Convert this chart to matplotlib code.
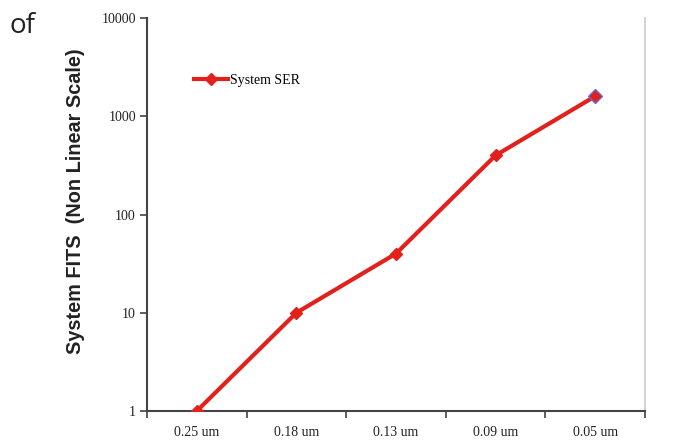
import matplotlib
matplotlib.use("Agg")
import matplotlib.pyplot as plt
from matplotlib.ticker import FixedLocator, NullFormatter, FixedFormatter

categories = ["0.25 um", "0.18 um", "0.13 um", "0.09 um", "0.05 um"]
system_ser = [1, 10, 40, 400, 1600]
y_ticks = [1, 10, 100, 1000, 10000]
y_tick_labels = ["1", "10", "100", "1000", "10000"]

fig = plt.figure(figsize=(6.73, 4.42), dpi=100)
ax = fig.add_axes([0.2184, 0.0701, 0.740, 0.8891])

x = list(range(len(categories)))
red = "#e2211c"
ax.plot(x, system_ser, color=red, lw=3.0, marker="D", markersize=6.5,
        markerfacecolor=red, markeredgecolor=red, label="System SER",
        clip_on=True, zorder=3)
# last point has a bluish outline in the reference
ax.plot([x[-1]], [system_ser[-1]], marker="D", markersize=7.5, color="#6a6ad8",
        markerfacecolor=red, markeredgewidth=1.0, zorder=4, ls="none")

ax.set_yscale("log")
ax.set_ylim(1, 10000)
ax.set_xlim(-0.5, len(categories) - 0.5)

ax.yaxis.set_major_locator(FixedLocator(y_ticks))
ax.yaxis.set_major_formatter(FixedFormatter(y_tick_labels))
ax.yaxis.set_minor_locator(FixedLocator([]))

ax.xaxis.set_major_locator(FixedLocator([i - 0.5 for i in range(len(categories) + 1)]))
ax.xaxis.set_major_formatter(NullFormatter())
ax.xaxis.set_minor_locator(FixedLocator(x))
ax.xaxis.set_minor_formatter(FixedFormatter(categories))

serif = ["Liberation Serif", "DejaVu Serif"]
ax.tick_params(axis="x", which="major", direction="out", length=5, width=1.2, color="#444444")
ax.tick_params(axis="x", which="minor", length=0, pad=11)
ax.tick_params(axis="y", which="major", direction="out", length=5, width=1.2, color="#444444", pad=3)
for lbl in ax.get_xticklabels(minor=True) + ax.get_yticklabels():
    lbl.set_fontfamily(serif)
    lbl.set_fontsize(10)
    lbl.set_color("#222222")

for s in ["left", "bottom"]:
    ax.spines[s].set_color("#444444")
    ax.spines[s].set_linewidth(1.5)
ax.spines["top"].set_visible(False)
ax.spines["right"].set_color("#cccccc")
ax.spines["right"].set_linewidth(1.2)

ax.set_ylabel("System FITS  (Non Linear Scale)", fontsize=14.3, fontweight="bold",
              family=["Liberation Sans", "DejaVu Sans"], color="#222222")
ax.yaxis.set_label_coords(-0.125, 0.535)

leg = ax.legend(loc="upper left", bbox_to_anchor=(0.07, 0.89), frameon=False,
                prop={"family": serif, "size": 10}, handlelength=2.4, handletextpad=0.2)

fig.text(0.014, 0.925, "of", fontsize=20, family=["Open Sans", "DejaVu Sans"], color="#222222")

fig.savefig("out.png", dpi=100)
